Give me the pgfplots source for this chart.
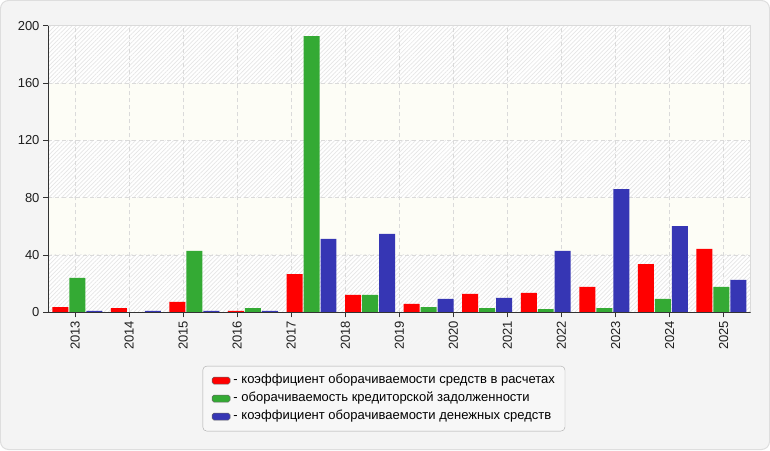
\documentclass[border=0pt]{standalone}
\usepackage{pgfplots}
\pgfplotsset{compat=1.18}
\usepackage{fontspec}
\setmainfont{Liberation Sans}
\usetikzlibrary{patterns.meta}
\definecolor{cred}{RGB}{255,0,0}
\definecolor{cgreen}{RGB}{52,170,52}
\definecolor{cblue}{RGB}{54,54,180}
\definecolor{bg}{RGB}{244,244,244}
\definecolor{plainband}{RGB}{253,253,246}
\definecolor{hatch}{RGB}{230,230,230}
\definecolor{gridc}{RGB}{218,218,218}
\begin{document}
\begin{tikzpicture}
\fill[bg, draw={rgb,255:red,222;green,222;blue,222}, line width=1pt, rounded corners=8pt]
  (-47.5pt,-137.2pt) rectangle (721.5pt,311.8pt);
% plot-area background bands (decoration)
\fill[plainband] (0pt,0pt) rectangle (702.7pt,286.6pt);
\fill[white] (0pt,0pt) rectangle (702.7pt,57.32pt);
\fill[white] (0pt,114.64pt) rectangle (702.7pt,171.96pt);
\fill[white] (0pt,229.28pt) rectangle (702.7pt,286.6pt);
\fill[pattern={Lines[angle=45,distance=3pt,line width=0.7pt]}, pattern color=hatch] (0pt,0pt) rectangle (702.7pt,57.32pt);
\fill[pattern={Lines[angle=45,distance=3pt,line width=0.7pt]}, pattern color=hatch] (0pt,114.64pt) rectangle (702.7pt,171.96pt);
\fill[pattern={Lines[angle=45,distance=3pt,line width=0.7pt]}, pattern color=hatch] (0pt,229.28pt) rectangle (702.7pt,286.6pt);
\begin{axis}[
  at={(0pt,0pt)}, anchor=south west,
  scale only axis, width=702.7pt, height=286.6pt,
  xmin=0, xmax=12, ymin=0, ymax=200,
  ytick={0,40,80,120,160,200},
  xtick={0.4615,1.3846,2.3077,3.2308,4.1538,5.0769,6.0,6.9231,7.8462,8.7692,9.6923,10.6154,11.5385},
  xticklabels={2013,2014,2015,2016,2017,2018,2019,2020,2021,2022,2023,2024,2025},
  x tick label style={rotate=90, anchor=east},
  tick label style={font=\fontsize{13}{15}\selectfont, text=black!88},
  /pgf/number format/assume math mode=true,
  tick pos=left, tick align=outside,
  major tick length=5pt,
  tick style={black!80, line width=0.8pt},
  axis line style={gridc, line width=0.8pt},
  grid=major,
  major grid style={gridc, dash pattern=on 4pt off 3pt, line width=0.7pt},
  legend style={at={(0.478,-0.187)}, anchor=north, draw={rgb,255:red,170;green,170;blue,170},
    fill={rgb,255:red,247;green,247;blue,247}, rounded corners=4pt,
    font=\fontsize{13}{15}\selectfont, inner xsep=9pt, inner ysep=7pt,
    row sep=3pt,
    nodes={inner sep=1pt, text height=9.5pt, text depth=3.5pt}},
  legend cell align=left,
  legend image code/.code={\draw[#1, draw=black!60, line width=0.5pt, rounded corners=1.8pt] (0pt,-3.5pt) rectangle (18pt,3.5pt);},
]
\addplot[ybar, bar width=0.273, bar shift=-0.29, fill=cred, draw=none] coordinates {
 (0.5,3.7) (1.5,3.0) (2.5,7.2) (3.5,1.0) (4.5,26.7) (5.5,12.1)
 (6.5,5.8) (7.5,12.8) (8.5,13.5) (9.5,17.7) (10.5,33.7) (11.5,44.2)};
\addlegendentry{\,- коэффициент оборачиваемости средств в расчетах}
\addplot[ybar, bar width=0.273, bar shift=0, fill=cgreen, draw=none] coordinates {
 (0.5,24.0) (1.5,0) (2.5,42.8) (3.5,3.0) (4.5,192.8) (5.5,12.1)
 (6.5,3.7) (7.5,3.0) (8.5,2.3) (9.5,3.0) (10.5,9.3) (11.5,17.7)};
\addlegendentry{\,- оборачиваемость кредиторской задолженности}
\addplot[ybar, bar width=0.273, bar shift=0.29, fill=cblue, draw=none] coordinates {
 (0.5,1.0) (1.5,1.0) (2.5,1.0) (3.5,1.0) (4.5,51.2) (5.5,54.7)
 (6.5,9.3) (7.5,10.0) (8.5,42.8) (9.5,86.0) (10.5,60.2) (11.5,22.6)};
\addlegendentry{\,- коэффициент оборачиваемости денежных средств}
\draw[black!80, line width=0.8pt] (rel axis cs:0,1) -- (rel axis cs:0,0) -- (rel axis cs:1,0);
\end{axis}
\end{tikzpicture}
\end{document}
